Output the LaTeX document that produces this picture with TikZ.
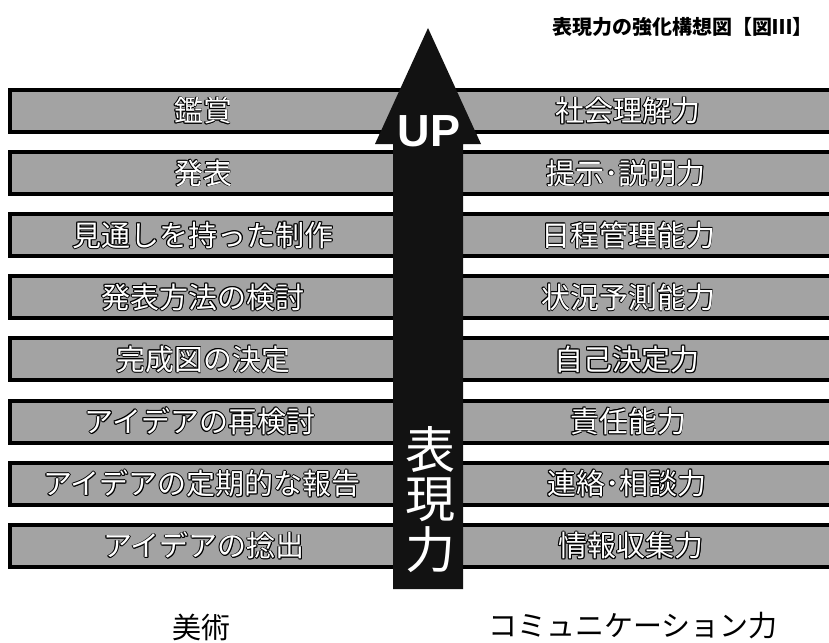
\documentclass[tikz,border=0pt]{standalone}
\usepackage{fontspec}
\newfontfamily\jp{Noto Sans CJK JP}
\newfontfamily\latinbold{Liberation Sans}
\definecolor{barfill}{gray}{0.64}
\definecolor{arrowfill}{gray}{0.07}
\newlength\olw
\setlength\olw{0.9pt}
\newcommand\hollow[1]{{\setbox0\hbox{#1}%
  \rlap{\color{black}\kern\olw\copy0}%
  \rlap{\color{black}\kern-\olw\copy0}%
  \rlap{\color{black}\raise\olw\copy0}%
  \rlap{\color{black}\lower\olw\copy0}%
  \rlap{\color{black}\kern.7\olw\raise.7\olw\copy0}%
  \rlap{\color{black}\kern.7\olw\lower.7\olw\copy0}%
  \rlap{\color{black}\kern-.7\olw\raise.7\olw\copy0}%
  \rlap{\color{black}\kern-.7\olw\lower.7\olw\copy0}%
  \color{white}\box0}}
\tikzset{
  barbox/.style={draw=black, line width=4pt, fill=barfill, minimum width=835pt,
    minimum height=42pt, inner sep=0pt, rectangle},
  bartext/.style={font=\jp\fontsize{29}{29}\selectfont, inner sep=0pt},
  verttext/.style={font=\jp\fontsize{50}{50}\selectfont, text=white, inner sep=0pt},
  bottomtext/.style={font=\jp\fontsize{29}{29}\selectfont, text=black, inner sep=0pt},
}
\begin{document}
\begin{tikzpicture}[x=1pt,y=-1pt]
\useasboundingbox (0,0) rectangle (829,642);
% bars
\foreach \i in {0,...,7} {
  \node[barbox] (bar\i) at (427.5,{111+62.1*\i}) {};
}
% left texts
\node[bartext] (l0) at (203,111.0) {\hollow{鑑賞}};
\node[bartext] (l1) at (203,173.1) {\hollow{発表}};
\node[bartext] (l2) at (203,235.2) {\hollow{見通しを持った制作}};
\node[bartext] (l3) at (203,297.3) {\hollow{発表方法の検討}};
\node[bartext] (l4) at (203,359.4) {\hollow{完成図の決定}};
\node[bartext] (l5) at (200,421.5) {\hollow{アイデアの再検討}};
\node[bartext] (l6) at (202,483.6) {\hollow{アイデアの定期的な報告}};
\node[bartext] (l7) at (204,545.7) {\hollow{アイデアの捻出}};
% right texts
\node[bartext] (r0) at (628,111.0) {\hollow{社会理解力}};
\node[bartext] (r1) at (626,173.1) {\hollow{提示･説明力}};
\node[bartext] (r2) at (628,235.2) {\hollow{日程管理能力}};
\node[bartext] (r3) at (628,297.3) {\hollow{状況予測能力}};
\node[bartext] (r4) at (627,359.4) {\hollow{自己決定力}};
\node[bartext] (r5) at (628,421.5) {\hollow{責任能力}};
\node[bartext] (r6) at (627,483.6) {\hollow{連絡･相談力}};
\node[bartext] (r7) at (631,545.7) {\hollow{情報収集力}};
% arrow
\fill[arrowfill] (393,589) -- (393,144) -- (375,144) -- (428,28) -- (481,144)
  -- (463,144) -- (463,589) -- cycle;
\node[font=\latinbold\bfseries\fontsize{45}{45}\selectfont, text=white, inner sep=0pt]
  (up) at (429,131) {UP};
\node[verttext] (v1) at (430,449.5) {表};
\node[verttext] (v2) at (430,499.5) {現};
\node[verttext] (v3) at (430,549.5) {力};
% title
\node[font=\jp\bfseries\fontsize{20}{20}\selectfont, anchor=east, inner sep=0pt]
  (title) at (813,27) {表現力の強化構想図【図Ⅲ】};
% bottom labels
\node[bottomtext] (art) at (201,627) {美術};
\node[bottomtext] (comm) at (633,626) {コミュニケーション力};
\end{tikzpicture}
\end{document}
